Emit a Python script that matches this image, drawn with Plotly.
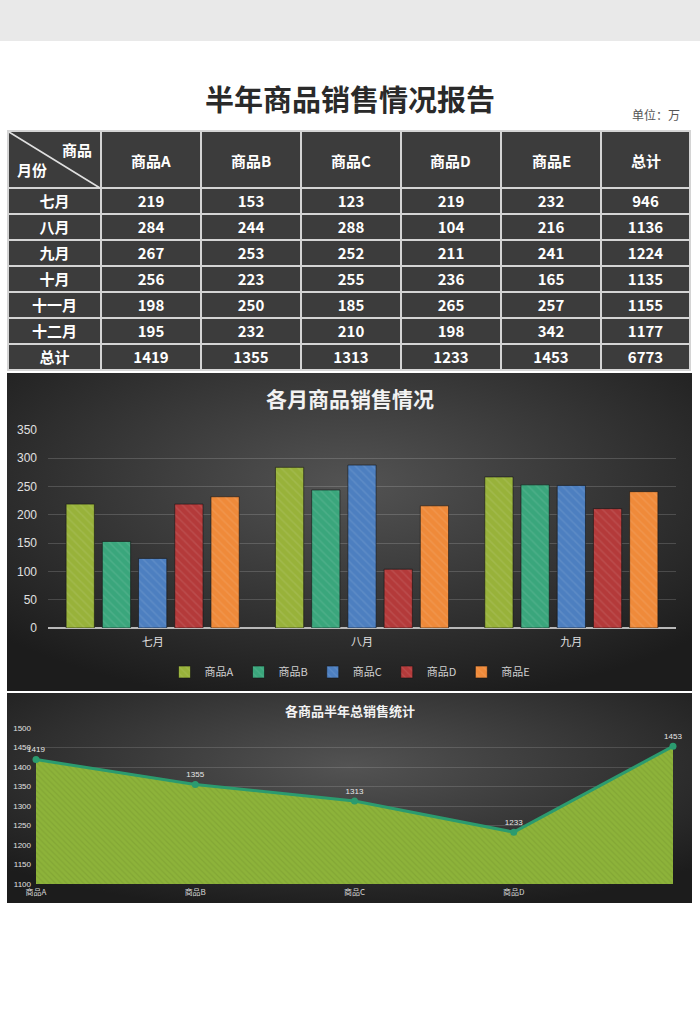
import base64
import plotly.graph_objects as go

W, H = 700, 1030

# ---------------- data ----------------
months = ["七月", "八月", "九月", "十月", "十一月", "十二月"]
products = ["商品A", "商品B", "商品C", "商品D", "商品E"]
sales_A = [219, 284, 267, 256, 198, 195]
sales_B = [153, 244, 253, 223, 250, 232]
sales_C = [123, 288, 252, 255, 185, 210]
sales_D = [219, 104, 211, 236, 265, 198]
sales_E = [232, 216, 241, 165, 257, 342]
month_totals = [946, 1136, 1224, 1135, 1155, 1177]
product_totals = [1419, 1355, 1313, 1233, 1453]
grand_total = 6773
chart_months = months[:3]
area_tick_labels = products[:4]
header_labels = products + ["总计"]

bar_colors = ["#98b23a", "#3aa67c", "#4d7fc0", "#b43a3a", "#ef8a3a"]
CJK = "Noto Sans CJK SC"

# table geometry (pixels)
TBL_X0, TBL_X1, TBL_Y0, TBL_Y1 = 8, 690, 131, 372
HEADER_H, ROW_H = 57, 26
col_widths = [93, 100, 100, 100, 100, 100, 89]


def fx(px):
    return px / W


def fy(py):
    return 1 - py / H


def grad_src(w, h):
    svg = (f'<svg xmlns="http://www.w3.org/2000/svg" width="{w}" height="{h}" '
           f'viewBox="0 0 {w} {h}" preserveAspectRatio="none"><defs>'
           '<radialGradient id="g" cx="50%" cy="35%" r="70%">'
           '<stop offset="0" stop-color="#535353"/>'
           '<stop offset="1" stop-color="#1c1c1c"/></radialGradient></defs>'
           f'<rect width="{w}" height="{h}" fill="url(#g)"/></svg>')
    return "data:image/svg+xml;base64," + base64.b64encode(svg.encode()).decode()


fig = go.Figure()

# ---------------- table ----------------
series = [sales_A, sales_B, sales_C, sales_D, sales_E]
columns = [months + ["总计"]]
for s, t in zip(series, product_totals):
    columns.append([str(v) for v in s] + [str(t)])
columns.append([str(v) for v in month_totals] + [str(grand_total)])
header_vals = ["　　　商品<br>月份"] + [""] * len(header_labels)

fig.add_trace(go.Table(
    domain=dict(x=[fx(TBL_X0), fx(TBL_X1)], y=[fy(TBL_Y1), fy(TBL_Y0)]),
    columnwidth=col_widths,
    header=dict(values=header_vals, height=HEADER_H, align="center",
                fill_color="#3c3c3c", line=dict(color="#d4d4d4", width=2),
                font=dict(family=CJK, size=15, color="white", weight="bold")),
    cells=dict(values=columns, height=ROW_H, align="center",
               fill_color="#3c3c3c", line=dict(color="#d4d4d4", width=2),
               font=dict(family="Liberation Sans Narrow, " + CJK,
                         size=15, color="white", weight="bold")),
))

# ---------------- bar chart ----------------
for name, s, c in zip(products, series, bar_colors):
    fig.add_trace(go.Bar(
        x=chart_months, y=s[:3], name=name, xaxis="x", yaxis="y",
        marker=dict(color=c, line=dict(color="rgba(20,20,20,0.6)", width=1),
                    pattern=dict(shape="\\", fgcolor="rgba(255,255,255,0.18)",
                                 bgcolor=c, size=6, solidity=0.25)),
    ))

# ---------------- area chart ----------------
fig.add_trace(go.Scatter(
    x=products, y=product_totals, xaxis="x2", yaxis="y2", showlegend=False,
    mode="lines+markers+text", text=[str(v) for v in product_totals],
    textposition="top center", cliponaxis=False,
    textfont=dict(family="Liberation Sans", size=8, color="#e8e8e8"),
    line=dict(color="#2b9b6f", width=3), marker=dict(color="#2b9b6f", size=7),
    fill="tozeroy", fillcolor="#8db33a",
    fillpattern=dict(shape="\\", fgcolor="rgba(60,80,10,0.25)", bgcolor="#8db33a",
                     size=4, solidity=0.3),
))

shapes = [
    dict(type="rect", xref="paper", yref="paper", x0=0, x1=1, y0=fy(41), y1=1,
         fillcolor="#e9e9e9", line_width=0, layer="below"),
    dict(type="line", xref="paper", yref="paper", x0=fx(TBL_X0 + 1), y0=fy(TBL_Y0 + 1),
         x1=fx(TBL_X0 + col_widths[0] - 1), y1=fy(TBL_Y0 + HEADER_H),
         line=dict(color="#e0e0e0", width=1.5)),
]

images = [
    dict(source=grad_src(685, 318), xref="paper", yref="paper", x=fx(7), y=fy(373),
         sizex=685 / W, sizey=318 / H, sizing="stretch", layer="below",
         xanchor="left", yanchor="top"),
    dict(source=grad_src(685, 210), xref="paper", yref="paper", x=fx(7), y=fy(693),
         sizex=685 / W, sizey=210 / H, sizing="stretch", layer="below",
         xanchor="left", yanchor="top"),
]

annotations = [
    dict(text="<b>半年商品销售情况报告</b>", x=0.5, y=fy(98), xanchor="center",
         font=dict(family=CJK, size=29, color="#2a2a2a")),
    dict(text="单位：万", x=fx(682), y=fy(114), xanchor="right",
         font=dict(family=CJK, size=12, color="#555")),
    dict(text="<b>各月商品销售情况</b>", x=0.5, y=fy(398), xanchor="center",
         font=dict(family=CJK, size=21, color="#f2f2f2")),
    dict(text="<b>各商品半年总销售统计</b>", x=0.5, y=fy(710), xanchor="center",
         font=dict(family=CJK, size=13, color="#f2f2f2")),
]
# header labels, vertically centred in the header row
left = TBL_X0 + col_widths[0]
for lab, w in zip(header_labels, col_widths[1:]):
    annotations.append(dict(text=f"<b>{lab}</b>", x=fx(left + w / 2),
                            y=fy(TBL_Y0 + HEADER_H / 2 + 1), xanchor="center",
                            font=dict(family=CJK, size=15, color="white")))
    left += w
for a in annotations:
    a.update(xref="paper", yref="paper", yanchor="middle", showarrow=False)

fig.update_layout(
    width=W, height=H, margin=dict(l=0, r=0, t=0, b=0, pad=0, autoexpand=False),
    paper_bgcolor="white", plot_bgcolor="rgba(0,0,0,0)",
    barmode="group", bargap=0.135, bargroupgap=0.22,
    shapes=shapes, images=images, annotations=annotations,
    font=dict(family=CJK),
    legend=dict(orientation="h", x=0.5, xanchor="center", y=fy(672), yanchor="middle",
                font=dict(family=CJK, size=11, color="#d0d0d0"),
                bgcolor="rgba(0,0,0,0)", itemwidth=30),
    xaxis=dict(domain=[fx(48), fx(676)], type="category", showgrid=False,
               tickfont=dict(family=CJK, size=11, color="#e0e0e0"),
               showline=False, ticks="", ticklabelstandoff=6, anchor="y"),
    yaxis=dict(domain=[fy(628), fy(430)], range=[0, 350], dtick=50,
               gridcolor="rgba(255,255,255,0.16)", gridwidth=1,
               zeroline=True, zerolinecolor="#b8b8b8", zerolinewidth=2,
               tickfont=dict(family="Liberation Sans", size=12, color="#e0e0e0"),
               ticks="", ticklabelstandoff=10, anchor="x"),
    xaxis2=dict(domain=[fx(36), fx(673)], type="category", range=[0, 4],
                tickvals=area_tick_labels,
                showgrid=False, showline=False, ticks="", anchor="y2",
                tickfont=dict(family=CJK, size=8, color="#d8d8d8"), ticklabelstandoff=2),
    yaxis2=dict(domain=[fy(884), fy(728)], range=[1100, 1500], dtick=50,
                gridcolor="rgba(255,255,255,0.14)", zeroline=False, anchor="x2",
                tickfont=dict(family="Liberation Sans", size=8, color="#e0e0e0"),
                ticks="", ticklabelstandoff=4),
)

fig.write_html("out.html")
